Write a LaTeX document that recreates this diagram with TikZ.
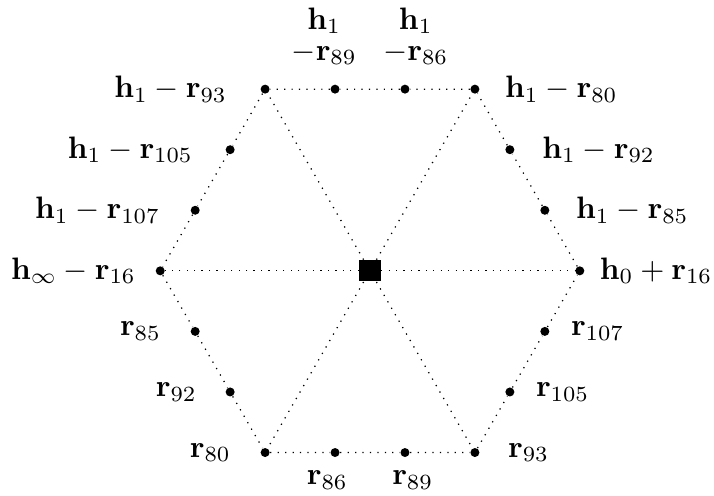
\documentclass[tikz,border=0pt]{standalone}
\usepackage{amsmath}
\usepackage{amssymb}
\usepackage{tikz}
\usetikzlibrary{positioning,calc}
\tikzset{
  % --- points ----------------------------------------------------------------
  pt/.style={circle,fill=black,inner sep=0pt,minimum size=2.9pt},
  hub/.style={rectangle,fill=black,inner sep=0pt,minimum size=6.8pt},
  % --- lines and labels ------------------------------------------------------
  rim/.style={dotted,line width=0.4pt},
  tag/.style={inner sep=1pt},
}

\begin{document}
\begin{tikzpicture}
  \def\R{67.7pt}   % hexagon radius
  \useasboundingbox (-119.4pt,-72.6pt) rectangle (111pt,87.4pt);

  \node[hub] (c) at (0,0) {};
  % corners
  \foreach \a in {0,60,...,300}
    \node[pt] (v\a) at (\a:\R) {};
  % two points on each side, at 1/3 and 2/3 of the way
  \foreach \a/\b in {0/60,60/120,120/180,180/240,240/300,300/0}{
    \node[pt] (s\a a) at ($(\a:\R)!1/3!(\b:\R)$) {};
    \node[pt] (s\a b) at ($(\a:\R)!2/3!(\b:\R)$) {};
    \draw[rim] (v\a) -- (s\a a) -- (s\a b) -- (v\b);
    \draw[rim] (c) -- (v\a);
  }

  % corner labels
  \node[tag,right=3.6pt of v0]   {$\mathbf{h}_0+\mathbf{r}_{16}$};
  \node[tag,right=6.9pt of v60]  {$\mathbf{h}_1-\mathbf{r}_{80}$};
  \node[tag,left=9.5pt of v120]  {$\mathbf{h}_1-\mathbf{r}_{93}$};
  \node[tag,left=5pt of v180]    {$\mathbf{h}_\infty-\mathbf{r}_{16}$};
  \node[tag,left=8.2pt of v240]  {$\mathbf{r}_{80}$};
  \node[tag,right=7.9pt of v300] {$\mathbf{r}_{93}$};

  % side labels
  \node[tag,right=7.25pt of s0a] {$\mathbf{h}_1-\mathbf{r}_{85}$};
  \node[tag,right=7.6pt of s0b]  {$\mathbf{h}_1-\mathbf{r}_{92}$};
  \node[tag,align=center,above=5pt of s60a,xshift=3.5pt]
       {$\mathbf{h}_1$\\[-2pt]$-\mathbf{r}_{86}$};
  \node[tag,align=center,above=5pt of s60b,xshift=-3.5pt]
       {$\mathbf{h}_1$\\[-2pt]$-\mathbf{r}_{89}$};
  \node[tag,left=9.2pt of s120a] {$\mathbf{h}_1-\mathbf{r}_{105}$};
  \node[tag,left=8.5pt of s120b] {$\mathbf{h}_1-\mathbf{r}_{107}$};
  \node[tag,left=8.2pt of s180a] {$\mathbf{r}_{85}$};
  \node[tag,left=7.9pt of s180b] {$\mathbf{r}_{92}$};
  \node[tag,below=3pt of s240a,xshift=-2.5pt] {$\mathbf{r}_{86}$};
  \node[tag,below=3pt of s240b,xshift=2.5pt]  {$\mathbf{r}_{89}$};
  \node[tag,right=5.6pt of s300a] {$\mathbf{r}_{105}$};
  \node[tag,right=5.6pt of s300b] {$\mathbf{r}_{107}$};
\end{tikzpicture}
\end{document}
